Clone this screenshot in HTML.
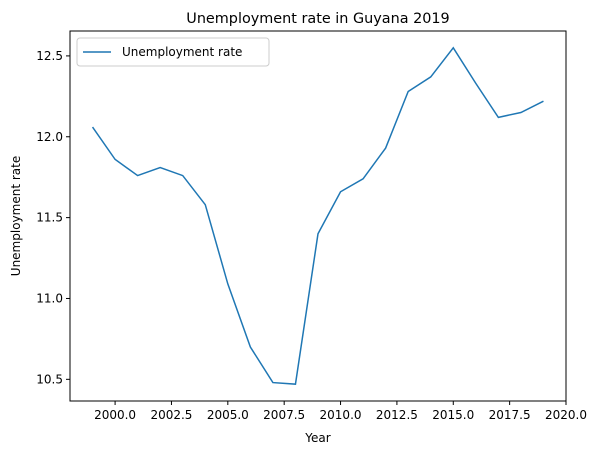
<!DOCTYPE html>
<html><head><meta charset="utf-8"><style>
body{margin:0;background:#fff;font-family:"Liberation Sans","DejaVu Sans",sans-serif}
svg text{font-family:"DejaVu Sans","Liberation Sans",sans-serif;fill:#000}
</style></head><body>
<svg id="c" width="600" height="455"></svg>
<script>
const years=[1999,2000,2001,2002,2003,2004,2005,2006,2007,2008,2009,2010,2011,2012,2013,2014,2015,2016,2017,2018,2019];
const rates=[12.06,11.86,11.76,11.81,11.76,11.58,11.09,10.70,10.48,10.47,11.40,11.66,11.74,11.93,12.28,12.37,12.55,12.33,12.12,12.15,12.22];
const xTicks=[2000,2002.5,2005,2007.5,2010,2012.5,2015,2017.5,2020];
const yTicks=[10.5,11.0,11.5,12.0,12.5];
const L=70,R=566,T=31,B=401;
const x0=1998,x1=2020,y0=10.366,y1=12.654;
const sx=v=>L+(v-x0)/(x1-x0)*(R-L);
const sy=v=>B-(v-y0)/(y1-y0)*(B-T);
const svg=document.getElementById('c');const NS='http://www.w3.org/2000/svg';
function mk(t,a,txt){const e=document.createElementNS(NS,t);for(const k in a)e.setAttribute(k,a[k]);if(txt!=null)e.textContent=txt;svg.appendChild(e);return e;}
let e;
e=mk('rect',{x:L,y:T,width:R-L,height:B-T,fill:'none',stroke:'#000','stroke-width':1});


xTicks.forEach(v=>{const x=sx(v);
e=mk('line',{x1:x,x2:x,y1:B,y2:B+4,stroke:'#000'});


e=mk('text',{x:x,y:B+18,'text-anchor':'middle','font-size':12},v.toFixed(1));

});
yTicks.forEach(v=>{const y=sy(v);
e=mk('line',{x1:L-4,x2:L,y1:y,y2:y,stroke:'#000'});


e=mk('text',{x:L-7,y:y+4,'text-anchor':'end','font-size':12},v.toFixed(1));

});
e=mk('polyline',{points:years.map((y,i)=>sx(y)+','+sy(rates[i])).join(' '),fill:'none',stroke:'#1f77b4','stroke-width':1.5});


e=mk('text',{x:(L+R)/2,y:23,'text-anchor':'middle','font-size':14.4},'Unemployment rate in Guyana 2019');


e=mk('text',{x:(L+R)/2,y:442,'text-anchor':'middle','font-size':12},'Year');


e=mk('text',{x:20,y:(T+B)/2,'text-anchor':'middle','font-size':12,transform:`rotate(-90 20 ${(T+B)/2})`},'Unemployment rate');


e=mk('rect',{x:77,y:38,width:192,height:28,rx:3,fill:'#fff',stroke:'#ccc'});


e=mk('line',{x1:83,x2:111,y1:52,y2:52,stroke:'#1f77b4','stroke-width':1.5});


e=mk('text',{x:122,y:56,'font-size':12},'Unemployment rate');


</script>
</body></html>
